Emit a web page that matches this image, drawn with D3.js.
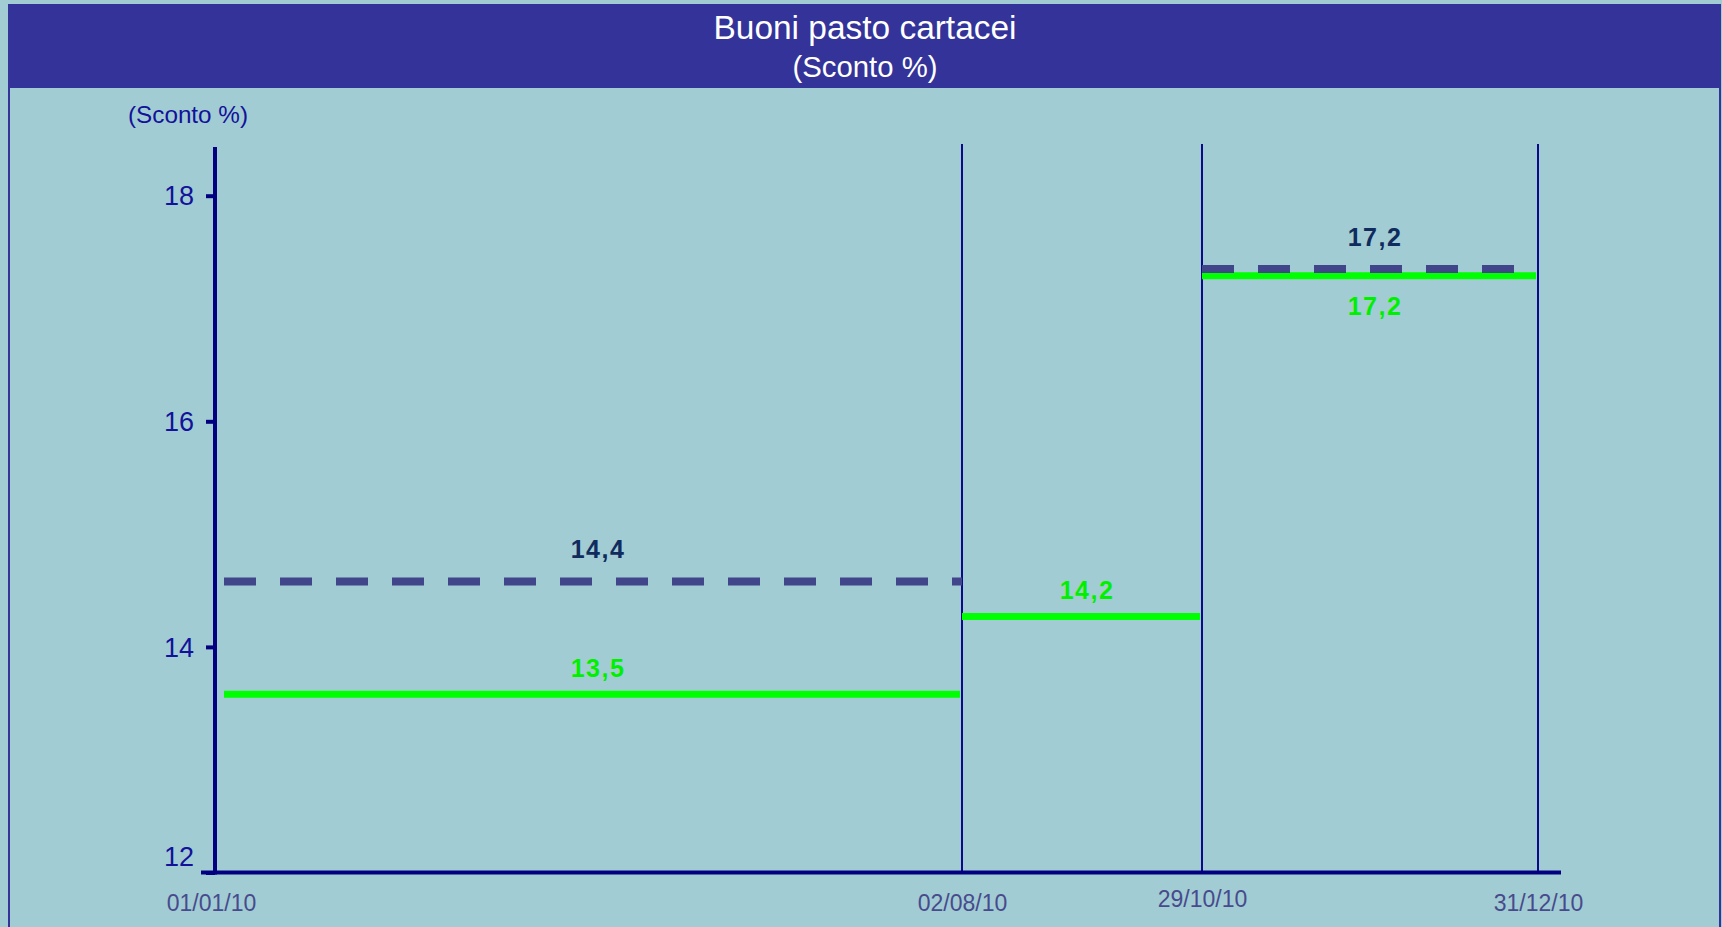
<!DOCTYPE html>
<html>
<head>
<meta charset="utf-8">
<script src="https://cdn.jsdelivr.net/npm/d3@7"></script>
<style>
  html, body { margin: 0; padding: 0; background: #A2CCD3; }
  svg { display: block; font-family: "Liberation Sans", Arial, sans-serif; }
</style>
</head>
<body>
<svg id="chart" width="1722" height="927"></svg>
<script>
// ---------------- data ----------------
const titleLines = ["Buoni pasto cartacei", "(Sconto %)"];
const yAxisTitle = "(Sconto %)";
const dateLabels = ["01/01/10", "02/08/10", "29/10/10", "31/12/10"];
const yTicks = [12, 14, 16, 18];

// dashed series (periods: start / end dates, plotted level, printed label)
const dashedStart  = ["01/01/10", "29/10/10"];
const dashedEnd    = ["02/08/10", "31/12/10"];
const dashedValues = [14.58, 17.35];
const dashedLabels = ["14,4", "17,2"];

// green series
const greenStart  = ["01/01/10", "02/08/10", "29/10/10"];
const greenEnd    = ["02/08/10", "29/10/10", "31/12/10"];
const greenValues = [13.58, 14.27, 17.29];
const greenLabels = ["13,5", "14,2", "17,2"];

// ---------------- layout ----------------
const W = 1722, H = 927;
const parse = d3.timeParse("%d/%m/%y");
const fmt = d3.timeFormat("%d/%m/%y");
const dates = dateLabels.map(parse);

const axisX = 215, axisBottom = 872.5, axisTop = 147, axisRight = 1561;
const x = d3.scaleTime()
  .domain(dates)
  .range([axisX, 962, 1202, 1538]);   // piecewise placement as in the original
const y = d3.scaleLinear().domain([12, 18]).range([axisBottom, 195.7]);

const svg = d3.select("#chart");

// frame + title band
svg.append("rect").attr("x", 9).attr("y", 5).attr("width", 1711).attr("height", 940)
  .attr("fill", "#A2CCD3").attr("stroke", "#333399").attr("stroke-width", 2);
svg.append("rect").attr("x", 9).attr("y", 5).attr("width", 1711).attr("height", 83)
  .attr("fill", "#333399");
svg.append("text").attr("x", 865).attr("y", 39).attr("text-anchor", "middle")
  .attr("fill", "#ffffff").attr("font-size", 33).attr("textLength", 303).attr("lengthAdjust", "spacingAndGlyphs")
  .text(titleLines[0]);
svg.append("text").attr("x", 865).attr("y", 77).attr("text-anchor", "middle")
  .attr("fill", "#ffffff").attr("font-size", 29).attr("textLength", 145).attr("lengthAdjust", "spacingAndGlyphs")
  .text(titleLines[1]);

// y axis title
svg.append("text").attr("x", 188).attr("y", 123).attr("text-anchor", "middle")
  .attr("fill", "#12129A").attr("font-size", 24).attr("textLength", 120).attr("lengthAdjust", "spacingAndGlyphs")
  .text(yAxisTitle);

// vertical period lines
svg.append("g").selectAll("line").data(dates.slice(1)).join("line")
  .attr("x1", d => x(d)).attr("x2", d => x(d))
  .attr("y1", 144).attr("y2", axisBottom)
  .attr("stroke", "#0A0A8A").attr("stroke-width", 2);

// y axis ticks & labels
const yAxis = svg.append("g").attr("transform", `translate(${axisX},0)`)
  .call(d3.axisLeft(y).tickValues(yTicks).tickSize(9).tickPadding(12).tickFormat(d3.format("d")));
yAxis.select(".domain").remove();
yAxis.selectAll(".tick line").attr("stroke", "#000080").attr("stroke-width", 4);
yAxis.selectAll(".tick text")
  .attr("fill", "#12129A").attr("font-size", 27).attr("font-family", "Liberation Sans, Arial, sans-serif")
  .attr("dy", d => d === yTicks[0] ? "-0.25em" : "0.34em");

// axis lines
svg.append("line").attr("x1", axisX).attr("x2", axisX).attr("y1", axisTop).attr("y2", axisBottom + 2)
  .attr("stroke", "#000080").attr("stroke-width", 4);
svg.append("line").attr("x1", 201).attr("x2", axisRight).attr("y1", axisBottom).attr("y2", axisBottom)
  .attr("stroke", "#000080").attr("stroke-width", 4);

// x axis date labels
const xAxis = svg.append("g").attr("transform", `translate(0,${axisBottom})`)
  .call(d3.axisBottom(x).tickValues(dates).tickSize(0).tickPadding(22).tickFormat(fmt));
xAxis.select(".domain").remove();
xAxis.selectAll(".tick text")
  .attr("fill", "#474B8D").attr("font-size", 23).attr("font-family", "Liberation Sans, Arial, sans-serif")
  .attr("x", (d, i) => i === 0 ? -4 : 0)
  .attr("y", (d, i) => i === 2 ? 18 : 22);

// segments
const inset = d => Math.max(x(d), axisX + 9);
const dashedData = dashedValues.map((v, i) => ({ s: parse(dashedStart[i]), e: parse(dashedEnd[i]), v, label: dashedLabels[i] }));
const greenData = greenValues.map((v, i) => ({ s: parse(greenStart[i]), e: parse(greenEnd[i]), v, label: greenLabels[i] }));

svg.append("g").selectAll("line").data(greenData).join("line")
  .attr("x1", d => inset(d.s)).attr("x2", d => x(d.e) - 2)
  .attr("y1", d => y(d.v)).attr("y2", d => y(d.v))
  .attr("stroke", "#00FF00").attr("stroke-width", 7);

svg.append("g").selectAll("line").data(dashedData).join("line")
  .attr("x1", d => inset(d.s)).attr("x2", d => x(d.e))
  .attr("y1", d => y(d.v)).attr("y2", d => y(d.v))
  .attr("stroke", "#414589").attr("stroke-width", 8).attr("stroke-dasharray", "32,24");

// labels
const mid = d => (inset(d.s) + x(d.e)) / 2 + 5;
svg.append("g").selectAll("text").data(dashedData).join("text")
  .attr("x", mid).attr("y", d => y(d.v) - 23)
  .attr("text-anchor", "middle").attr("fill", "#102B5E").attr("font-size", 25).attr("font-weight", "bold")
  .attr("letter-spacing", 1.5)
  .text(d => d.label);

const nearDashed = d => dashedData.some(q => +q.s === +d.s && Math.abs(q.v - d.v) < 0.3);
svg.append("g").selectAll("text").data(greenData).join("text")
  .attr("x", mid).attr("y", d => nearDashed(d) ? y(d.v) + 39 : y(d.v) - 17)
  .attr("text-anchor", "middle").attr("fill", "#00F000").attr("font-size", 25).attr("font-weight", "bold")
  .attr("letter-spacing", 1.5)
  .text(d => d.label);
</script>
</body>
</html>
